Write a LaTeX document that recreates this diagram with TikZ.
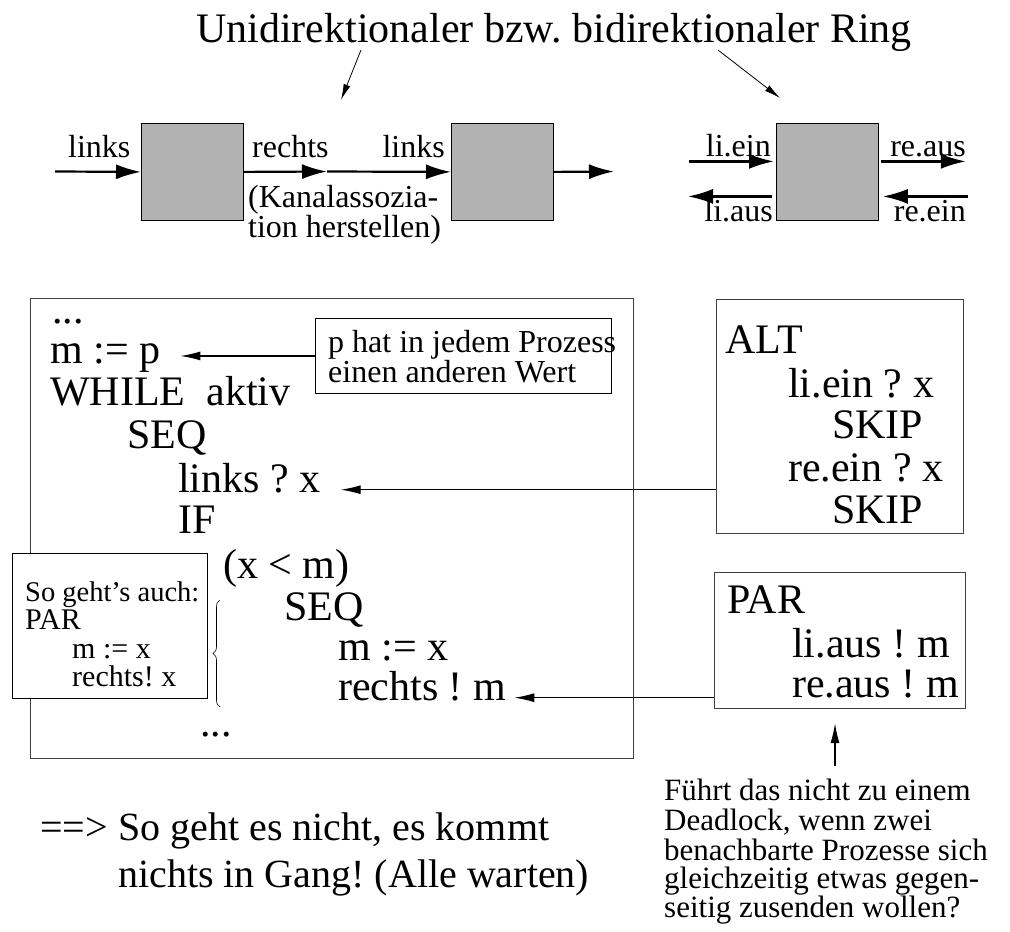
\documentclass[tikz,border=0pt]{standalone}
\usepackage{fontspec}
\setmainfont{Liberation Serif}
\usetikzlibrary{arrows.meta,positioning,decorations.pathreplacing}

\begin{document}
\frenchspacing
\begin{tikzpicture}[x=1pt,y=-1pt,
    big/.style={anchor=base west,inner sep=0pt,font=\fontsize{42}{42}\selectfont},
    lab/.style={anchor=base west,inner sep=0pt,font=\fontsize{32}{32}\selectfont},
    sml/.style={anchor=base west,inner sep=0pt,font=\fontsize{30}{30}\selectfont},
    proc/.style={draw=black,fill=black!30,line width=0.8pt,anchor=north west,inner sep=0pt,
        minimum width=102pt,minimum height=97pt},
    frame/.style={draw=black!75,line width=1.2pt,anchor=north west,inner sep=0pt},
    fat/.style={-{Latex[length=25pt,width=15pt]},line width=2.2pt},
    thin/.style={-{Latex[length=20pt,width=9pt]},line width=1.2pt},
    hint/.style={-{Latex[length=16pt,width=7pt]},line width=0.8pt}]
     \useasboundingbox (0,0) rectangle (1010,932);

     \node[anchor=base,inner sep=0pt,font=\fontsize{42}{42}\selectfont] (title) at (554,42)
         {Unidirektionaler bzw. bidirektionaler Ring};
     \coordinate (uni_a) at (361,50);
     \coordinate (uni_b) at (341,100);
     \coordinate (bi_a) at (718,50);
     \coordinate (bi_b) at (780,98);
     \draw[hint] (uni_a) -- (uni_b);
     \draw[hint] (bi_a) -- (bi_b);

     % unidirektional
     \node[proc] (p1) at (141,123) {};
     \node[proc] (p2) at (451,123) {};
     \coordinate (in1) at (55,171.5);
     \coordinate (k) at (327,171.5);
     \coordinate (out2) at (614,171.5);
     \draw[fat] (in1) -- (p1.west);
     \draw[fat] (p1.east) -- (k);
     \draw[fat] (k) -- (p2.west);
     \draw[fat] (p2.east) -- (out2);
     \node[lab] (l1) at (68,157) {links};
     \node[lab] (r1) at (252,157) {rechts};
     \node[lab,anchor=base east] (l2) at (445,157) {links};
     \node[lab] (ka1) at (248,207) {(Kanalassozia-};
     \node[lab] (ka2) at (248,237) {tion herstellen)};

     % bidirektional
     \node[proc] (p3) at (776,123) {};
     \draw[fat] ([xshift=-87pt,yshift=10.5pt]p3.west) -- ([xshift=-2pt,yshift=10.5pt]p3.west);
     \draw[fat] ([xshift=2pt,yshift=10.5pt]p3.east) -- ([xshift=87pt,yshift=10.5pt]p3.east);
     \draw[fat] ([xshift=-4pt,yshift=-24.5pt]p3.west) -- ([xshift=-88pt,yshift=-24.5pt]p3.west);
     \draw[fat] ([xshift=89pt,yshift=-24.5pt]p3.east) -- ([xshift=4pt,yshift=-24.5pt]p3.east);
     \node[lab,anchor=base east] (liein) at (771,156) {li.ein};
     \node[lab,anchor=base east] (reaus) at (966,156) {re.aus};
     \node[lab,anchor=base east] (liaus) at (773,221) {li.aus};
     \node[lab,anchor=base east] (reein) at (966,221) {re.ein};

     % Prozess
     \node[frame,minimum width=603pt,minimum height=460pt] (main) at (30,298) {};
     \node[big] (c0) at (52,323) {...};
     \node[big] (mp) at (50,363) {m := p};
     \node[big] (wh) at (50,405) {WHILE~~aktiv};
     \node[big] (seq1) at (127,448) {SEQ};
     \node[big] (lx) at (178,492) {links ? x};
     \node[big] (if) at (178,533) {IF};
     \node[big] (cond) at (223,578) {(x < m)};
     \node[big] (seq2) at (284,620) {SEQ};
     \node[big] (mx) at (338,660) {m := x};
     \node[big] (rm) at (338,700) {rechts ! m};
     \node[big] (c1) at (200,736) {...};

     \node[frame,line width=0.9pt,draw=black,minimum width=296pt,minimum height=75pt] (note) at (315,318) {};
     \node[lab] (n1) at (328,352) {p hat in jedem Prozess};
     \node[lab] (n2) at (328,382) {einen anderen Wert};
     \draw[thin] (note.west) -- ([xshift=20pt]mp.east |- note.west);

     \node[frame,line width=0.9pt,draw=black,fill=white,minimum width=195pt,minimum height=145pt] (also) at (12,553) {};
     \node[sml,font=\fontsize{28.5}{28.5}\selectfont] (a1) at (25,601) {So geht’s auch:};
     \node[sml] (a2) at (25,629) {PAR};
     \node[sml] (a3) at (72,658) {m := x};
     \node[sml] (a4) at (72,686) {rechts! x};
     \draw[decorate,decoration={brace,amplitude=7pt},line width=0.6pt] (220,707) -- (220,600);

     % ALT / PAR
     \node[frame,minimum width=247pt,minimum height=234pt] (alt) at (716,299) {};
     \node[big] (alt0) at (725,353) {ALT};
     \node[big] (alt1) at (788,397) {li.ein ? x};
     \node[big] (alt2) at (832,438) {SKIP};
     \node[big] (alt3) at (788,481) {re.ein ? x};
     \node[big] (alt4) at (832,523) {SKIP};
     \draw[thin] (alt.west |- lx.mid east) -- ([xshift=20pt]lx.mid east);

     \node[frame,minimum width=251pt,minimum height=136pt] (par) at (714,572) {};
     \node[big] (par0) at (727,613) {PAR};
     \node[big] (par1) at (792,657) {li.aus ! m};
     \node[big] (par2) at (792,697) {re.aus ! m};
     \draw[thin] (par.west |- rm.mid east) -- ([xshift=8pt]rm.mid east);

     % Frage
     \coordinate (qtail) at (835,766);
     \draw[thin] (qtail) -- ([yshift=-14pt]par.south -| qtail);
     \node[lab,font=\fontsize{31}{31}\selectfont] (q1) at (664,800) {Führt das nicht zu einem};
     \node[lab,font=\fontsize{31}{31}\selectfont] (q2) at (664,830) {Deadlock, wenn zwei};
     \node[lab,font=\fontsize{31}{31}\selectfont] (q3) at (664,860) {benachbarte Prozesse sich};
     \node[lab,font=\fontsize{31}{31}\selectfont] (q4) at (664,888) {gleichzeitig etwas gegen-};
     \node[lab,font=\fontsize{31}{31}\selectfont] (q5) at (664,917) {seitig zusenden wollen?};

     \node[big,font=\fontsize{40}{40}\selectfont] (arr) at (40,840) {==>};
     \node[big,font=\fontsize{40}{40}\selectfont] (b1) at (118,840) {So geht es nicht, es kommt};
     \node[big,font=\fontsize{40}{40}\selectfont] (b2) at (118,887) {nichts in Gang! (Alle warten)};
\end{tikzpicture}
\end{document}
